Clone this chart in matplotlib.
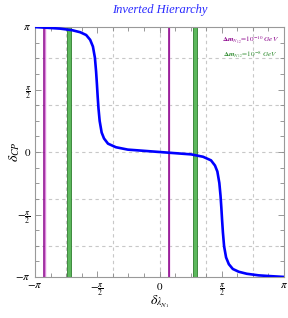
import numpy as np
import matplotlib
matplotlib.use("Agg")
import matplotlib.pyplot as plt

plt.rcParams['mathtext.fontset'] = 'stix'
plt.rcParams['font.family'] = ['Liberation Serif', 'DejaVu Serif']

PI = np.pi
# blue curve: delta_lambda (x) vs delta_CP (y)
curve_x = [-3.14, -2.8, -2.5, -2.2, -2.0, -1.85, -1.75, -1.68, -1.63, -1.60, -1.58,
           -1.56, -1.54, -1.51, -1.46, -1.40, -1.30, -1.1, -0.8, -0.4, 0.0,
           0.4, 0.8, 1.1, 1.30, 1.40, 1.46, 1.51, 1.54, 1.56,
           1.58, 1.60, 1.63, 1.68, 1.75, 1.85, 2.0, 2.2, 2.5, 2.8, 3.14]
curve_y = [3.14, 3.12, 3.10, 3.06, 3.01, 2.94, 2.82, 2.65, 2.37, 2.02, 1.72,
           1.39, 1.10, 0.78, 0.49, 0.34, 0.21, 0.12, 0.06, 0.03, 0.0,
           -0.03, -0.06, -0.12, -0.21, -0.34, -0.49, -0.78, -1.10, -1.39,
           -1.72, -2.02, -2.37, -2.65, -2.82, -2.94, -3.01, -3.06, -3.10, -3.12, -3.14]

purple_lines = [-2.91, 0.23]      # Delta m = 1e-10 GeV
green_lines = [-2.28, 0.90]       # Delta m = 1e-8 GeV
green_halfwidth = 0.045

tick_vals = [-PI, -PI/2, 0, PI/2, PI]
xtick_labels = [r'$-\pi$', r'$-\frac{\pi}{2}$', r'$0$', r'$\frac{\pi}{2}$', r'$\pi$']
ytick_labels = [r'$-\pi$', r'$-\frac{\pi}{2}$', r'$0$', r'$\frac{\pi}{2}$', r'$\pi$']
grid_vals = [-3*PI/4, -3*PI/8, 0, 3*PI/8, 3*PI/4]

W, H = 288, 318
fig = plt.figure(figsize=(W/100, H/100), dpi=100)
ax = fig.add_axes([35/W, 41/H, 249/W, 250/H])

for g in grid_vals:
    ax.axvline(g, color='#c8c8c8', lw=0.8, ls=(0, (3, 3)), zorder=0)
    ax.axhline(g, color='#c8c8c8', lw=0.8, ls=(0, (3, 3)), zorder=0)

for p in purple_lines:
    ax.axvline(p + 0.012, color='#dd88dd', lw=1.0, zorder=1)
    ax.axvline(p, color='#8a008a', lw=1.1, zorder=2)
for g in green_lines:
    ax.axvspan(g - green_halfwidth, g + green_halfwidth, facecolor='#5cb85c',
               edgecolor='#2e7d2e', lw=0.6, zorder=2)

ax.plot(curve_x, curve_y, color='#0000ff', lw=1.9, zorder=3, solid_capstyle='butt')

ax.set_xlim(-PI, PI)
ax.set_ylim(-PI, PI)
ax.set_xticks(tick_vals)
ax.set_xticklabels(xtick_labels, fontsize=8)
ax.set_yticks(tick_vals)
ax.set_yticklabels(ytick_labels, fontsize=8)
minor = np.arange(-PI, PI + 1e-9, PI/8)
ax.set_xticks(minor, minor=True)
ax.set_yticks(minor, minor=True)
ax.tick_params(which='both', direction='in', top=True, right=True, color='#888888',
               width=0.6, pad=3)
ax.tick_params(which='major', length=4)
ax.tick_params(which='minor', length=3)
for s in ax.spines.values():
    s.set_color('#999999')
    s.set_linewidth(0.8)

fig.text(160/W, 1 - 302/H, r'$\delta_{\lambda_{N_1}}$', fontsize=10,
         ha='center', va='center')
fig.text(15/W, 1 - 152/H, r'$\delta_{CP}$', fontsize=10, rotation=90,
         ha='center', va='center')

fig.text(160/W, 1 - 10/H, 'Inverted Hierarchy', color='#2a2aff', fontsize=9,
         style='italic', ha='center', va='center')

ax.text(0.98, 0.945, r'$\mathbf{\Delta} \boldsymbol{m}_{N_{12}}\!=\!10^{-10}\ \mathit{GeV}$',
        transform=ax.transAxes, ha='right', va='center', fontsize=5.2, color='#8a008a')
ax.text(0.975, 0.885, r'$\mathbf{\Delta} \boldsymbol{m}_{N_{12}}\!=\!10^{-8}\ \mathit{GeV}$',
        transform=ax.transAxes, ha='right', va='center', fontsize=5.2, color='#2e8b2e')

fig.savefig('out.png', dpi=100)
